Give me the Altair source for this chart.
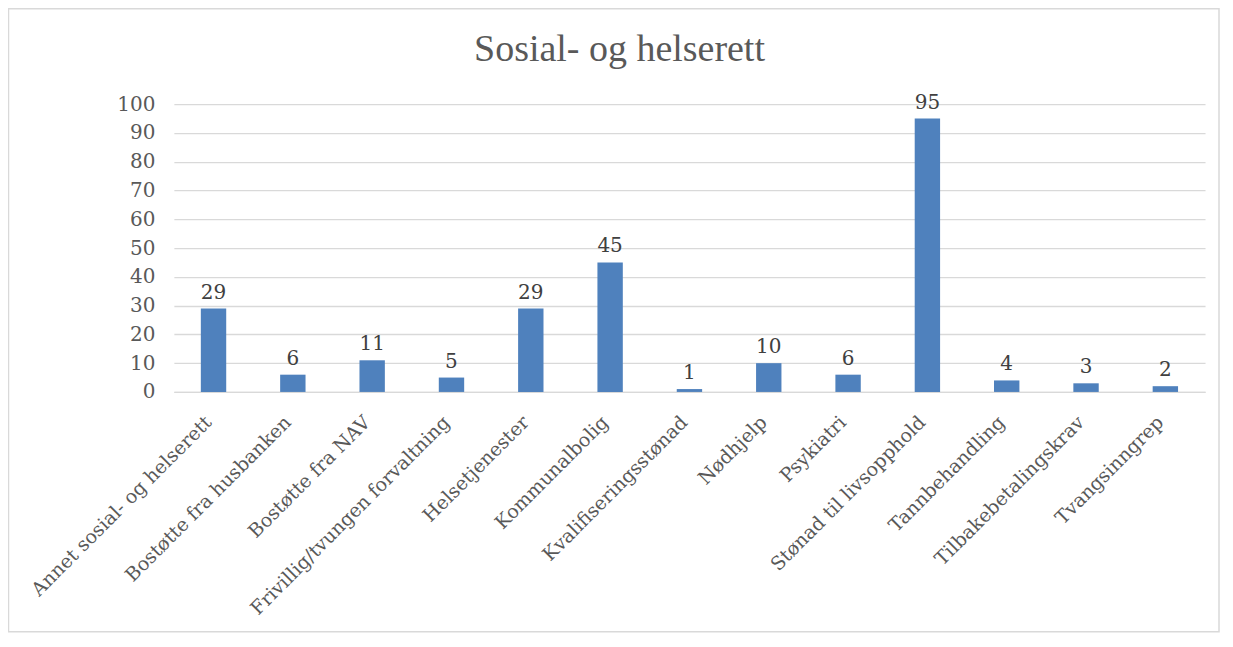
import altair as alt
import pandas as pd

categories = [
    "Annet sosial- og helserett", "Bostøtte fra husbanken", "Bostøtte fra NAV",
    "Frivillig/tvungen forvaltning", "Helsetjenester", "Kommunalbolig",
    "Kvalifiseringsstønad", "Nødhjelp", "Psykiatri", "Stønad til livsopphold",
    "Tannbehandling", "Tilbakebetalingskrav", "Tvangsinngrep",
]
values = [29, 6, 11, 5, 29, 45, 1, 10, 6, 95, 4, 3, 2]
y_ticks = [0, 10, 20, 30, 40, 50, 60, 70, 80, 90, 100]

df = pd.DataFrame({"kategori": categories, "antall": values})

FONT = "Liberation Serif"
NUMFONT = "DejaVu Serif"
W, H = 1032, 288
PL, PT, PR, PB = 166, 96, 20, 248

x = alt.X("kategori:N", sort=categories, title=None,
          scale=alt.Scale(paddingInner=0.68, paddingOuter=0.34),
          axis=alt.Axis(labelAngle=-45, labelAlign="right", labelBaseline="middle",
                        labelFont=NUMFONT, labelFontSize=19, labelColor="#595959",
                        labelPadding=27, labelOffset=-5,
                        ticks=False, domainColor="#D9D9D9",
                        domainWidth=1.3, labelLimit=400))
y = alt.Y("antall:Q", title=None,
          scale=alt.Scale(domain=[0, 100], nice=False),
          axis=alt.Axis(values=y_ticks, labelFont=NUMFONT, labelFontSize=20,
                        labelColor="#595959", ticks=False, domain=False,
                        gridColor="#D9D9D9", gridWidth=1.3, labelPadding=19))

bars = alt.Chart(df).mark_bar(color="#4F81BD").encode(x=x, y=y)
labels = alt.Chart(df).mark_text(baseline="bottom", dy=-6, font=NUMFONT, fontSize=20,
                                 color="#404040").encode(x=x, y=y, text="antall:Q")

frame = alt.Chart(pd.DataFrame({"a": [0]})).mark_rect(
    fill=None, stroke="#D9D9D9", strokeWidth=1.5).encode(
    x=alt.value(-PL + 0.5), x2=alt.value(W + PR - 6),
    y=alt.value(-PT + 0.5), y2=alt.value(H + PB - 8))

chart = alt.layer(frame, bars, labels).properties(
    width=W, height=H,
    autosize=alt.AutoSizeParams(type="none"),
    padding={"left": PL, "top": PT, "right": PR, "bottom": PB},
    title=alt.TitleParams("Sosial- og helserett", font=FONT, fontSize=38,
                          fontWeight="normal", color="#595959",
                          anchor="middle", dx=-70, dy=91, offset=0,
                          baseline="alphabetic"),
).configure_view(stroke=None)

chart.save("out.html", embed_options={"renderer": "svg", "actions": False})
